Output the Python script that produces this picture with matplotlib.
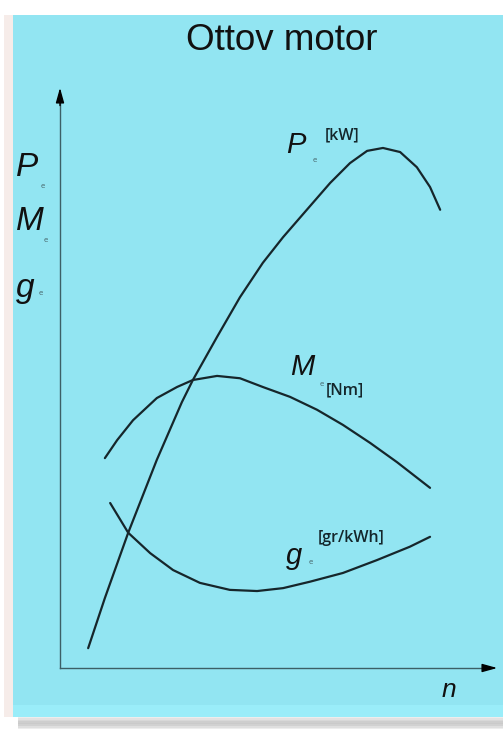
import matplotlib
matplotlib.use("Agg")
import matplotlib.pyplot as plt
from matplotlib.patches import Rectangle

# ---- data (arbitrary units: n 0..100, value 0..100) ----
p_n = [6.4, 10.2, 15.5, 22.0, 27.7, 30.2, 35.7, 40.9, 46.1, 50.7, 56.1, 61.4,
       65.9, 69.8, 73.4, 77.3, 81.1, 84.1, 86.4]
p_v = [3.4, 12.0, 23.2, 35.7, 45.6, 49.4, 56.8, 63.6, 69.5, 73.9, 78.6, 83.2,
       86.6, 88.7, 89.2, 88.5, 85.9, 82.5, 78.6]

m_n = [10.2, 13.0, 16.6, 22.0, 26.6, 30.2, 35.7, 40.9, 46.1, 52.3, 58.4, 64.3,
       70.5, 76.6, 84.1]
m_v = [36.0, 39.1, 42.5, 46.3, 48.2, 49.4, 50.1, 49.7, 48.2, 46.5, 44.3, 41.7,
       38.6, 35.3, 30.9]

g_n = [11.4, 15.5, 20.5, 25.7, 31.8, 38.6, 44.8, 50.7, 56.8, 64.3, 72.0, 79.5, 84.1]
g_v = [28.3, 23.2, 19.7, 16.8, 14.6, 13.4, 13.2, 13.7, 14.8, 16.3, 18.5, 20.8, 22.5]

title = "Ottov motor"
y_labels = ["P", "M", "g"]
curve_units = ["[kW]", "[Nm]", "[gr/kWh]"]
x_label = "n"

W, H = 503, 731
fig = plt.figure(figsize=(W / 100, H / 100), dpi=100)
fig.patch.set_facecolor("white")

def fx(px):
    return px / W

def fy(py):
    return 1 - py / H

# shadow below panel
for i, a in enumerate([0.10, 0.16, 0.22, 0.28, 0.30, 0.26, 0.18, 0.10]):
    fig.patches.append(Rectangle((fx(18), fy(718 + i * 1.6)), fx(490), 1.6 / H,
                                 transform=fig.transFigure, color="#505050",
                                 alpha=a, lw=0, zorder=0))
# faint left edge
fig.patches.append(Rectangle((fx(4), fy(717)), fx(9), 702 / H,
                             transform=fig.transFigure, color="#f6ece9",
                             lw=0, zorder=0))
# cyan panel
fig.patches.append(Rectangle((fx(13), fy(717)), fx(495), 702 / H,
                             transform=fig.transFigure, color="#92e5f2",
                             lw=0, zorder=1))
fig.patches.append(Rectangle((fx(13), fy(717)), fx(495), 12 / H,
                             transform=fig.transFigure, color="#9aedf9",
                             lw=0, zorder=1))

ax = fig.add_axes([fx(60), fy(668), fx(500) - fx(60), fy(85) - fy(668)])
ax.set_zorder(5)
ax.set_xlim(0, 100)
ax.set_ylim(0, 100)
ax.set_facecolor("none")
ax.patch.set_alpha(0)
for s in ax.spines.values():
    s.set_visible(False)
ax.set_xticks([])
ax.set_yticks([])

axis_col = "#3c5f66"
ax.plot([0, 0], [0, 97], color=axis_col, lw=1.0, clip_on=False)
ax.plot([0, 98], [0, 0], color=axis_col, lw=1.0, clip_on=False)
ax.annotate("", xy=(0, 100), xytext=(0, 96),
            arrowprops=dict(arrowstyle="-|>,head_length=0.9,head_width=0.25",
                            color="black", lw=1.0), annotation_clip=False)
ax.annotate("", xy=(100, 0), xytext=(97, 0),
            arrowprops=dict(arrowstyle="-|>,head_length=0.9,head_width=0.25",
                            color="black", lw=1.0), annotation_clip=False)

curve_col = "#16262b"
for xs, ys in [(p_n, p_v), (m_n, m_v), (g_n, g_v)]:
    ax.plot(xs, ys, color=curve_col, lw=1.6, solid_capstyle="round",
            solid_joinstyle="round", zorder=3, clip_on=False)

narrow = ["Liberation Sans", "DejaVu Sans"]

fig.text(fx(282), fy(40), title, fontsize=26.5, family=narrow,
         ha="center", va="center", color="#111111", zorder=6)

# y axis labels
ypos = [168, 222, 288]
sub_pos = [(43, 186), (46, 240), (41, 293)]
for lab, yp, (sx, sy) in zip(y_labels, ypos, sub_pos):
    fig.text(fx(16), fy(yp), lab, fontsize=24, family=narrow, style="italic",
             ha="left", va="center", color="#111111", zorder=6)
    fig.text(fx(sx), fy(sy), "e", fontsize=5, family="DejaVu Sans",
             ha="center", va="center", color="#4a6a70", zorder=6)

# curve labels
lab_main = [(286, 145), (290, 367), (286, 556)]
lab_sub = [(315, 160), (322, 384), (311, 562)]
lab_unit = [(325, 135), (326, 390), (318, 538)]
for lab, (mx, my), (sx, sy), (ux, uy), unit in zip(y_labels, lab_main, lab_sub,
                                                    lab_unit, curve_units):
    fig.text(fx(mx), fy(my), lab, fontsize=21, family=narrow, style="italic",
             ha="left", va="center", color="#111111", zorder=6)
    fig.text(fx(sx), fy(sy), "e", fontsize=5, family="DejaVu Sans",
             ha="center", va="center", color="#4a6a70", zorder=6)
    fig.text(fx(ux), fy(uy), unit, fontsize=11.5, family="Open Sans",
             weight="semibold", ha="left", va="center", color="#14262b", zorder=6)

fig.text(fx(442), fy(690), x_label, fontsize=19, family=narrow, style="italic",
         ha="left", va="center", color="#111111", zorder=6)

fig.savefig("out.png", dpi=100, facecolor=fig.get_facecolor())
